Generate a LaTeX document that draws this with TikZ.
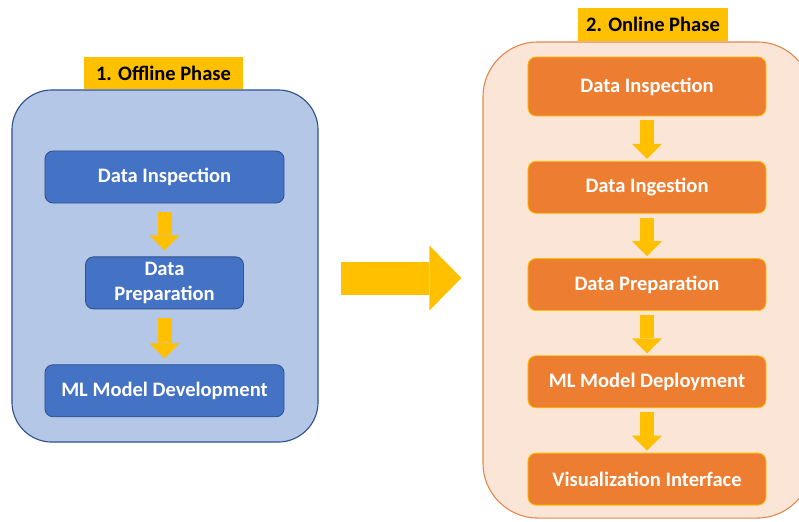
\documentclass[tikz,border=0pt]{standalone}
\usepackage{fontspec}
\setmainfont{Carlito}
\usetikzlibrary{arrows.meta,positioning}
\definecolor{gold}{HTML}{FFC000}
\definecolor{paleblue}{HTML}{B4C7E7}
\definecolor{boxblue}{HTML}{4472C4}
\definecolor{edgeblue}{HTML}{2F528F}
\definecolor{palepeach}{HTML}{FBE5D6}
\definecolor{peachedge}{HTML}{E08A52}
\definecolor{boxorange}{HTML}{ED7D31}

\begin{document}
\begin{tikzpicture}[x=0.025cm,y=-0.025cm,node distance=1.11cm,
  font=\bfseries\fontsize{14.6}{17.5}\selectfont,
  phase/.style={rectangle,rounded corners=1cm,line width=0.8pt,inner sep=0pt},
  tag/.style={rectangle,fill=gold,text=black,minimum height=0.8cm,inner sep=0pt},
  bluebox/.style={rectangle,rounded corners=0.2cm,fill=boxblue,draw=edgeblue,line width=0.6pt,text=white,minimum width=5.975cm,minimum height=1.3cm,align=center,inner sep=0pt},
  orangebox/.style={rectangle,rounded corners=0.2cm,fill=boxorange,draw=gold,line width=0.6pt,text=white,minimum width=5.95cm,minimum height=1.3cm,inner sep=0pt},
  flow/.style={draw=gold,line width=0.35cm,-{Triangle[length=0.375cm,width=0.75cm,line width=0pt]}},
  bigflow/.style={draw=gold,line width=0.825cm,shorten <=0.55cm,shorten >=0.525cm,-{Triangle[length=0.8cm,width=1.625cm,line width=0pt]}}]
\useasboundingbox (0,0) rectangle (799,521);

\node[phase,fill=paleblue,draw=edgeblue,minimum width=7.65cm,minimum height=8.8cm](off) at (165,266){};
\node[tag,minimum width=3.975cm](offtag) at (163.5,73){1. Offline Phase};

\node[bluebox](din) at (164.5,177){Data Inspection};
\node[bluebox,minimum width=3.95cm,below=1.325cm of din](dprep){Data\\Preparation};
\node[bluebox,below=1.375cm of dprep](mldev){ML Model Development};

\draw[flow,shorten <=0.225cm,shorten >=0.15cm](din)--(dprep);
\draw[flow,shorten <=0.225cm,shorten >=0.15cm](dprep)--(mldev);

\node[phase,rounded corners=1.375cm,fill=palepeach,draw=peachedge,minimum width=8.225cm,minimum height=11.9cm](on) at (647.5,280){};
\node[tag,minimum width=3.75cm,minimum height=0.825cm](ontag) at (653,24.5){2. Online Phase};

\node[orangebox,minimum height=1.475cm](oin) at (647,86.5){Data Inspection};
\node[orangebox,below=of oin](oing){Data Ingestion};
\node[orangebox,below=of oing](oprep){Data Preparation};
\node[orangebox,below=of oprep](odep){ML Model Deployment};
\node[orangebox,below=of odep](ovis){Visualization Interface};

\draw[flow,shorten <=0.1cm,shorten >=0.05cm](oin)--(oing);
\draw[flow,shorten <=0.1cm,shorten >=0.05cm](oing)--(oprep);
\draw[flow,shorten <=0.1cm,shorten >=0.05cm](oprep)--(odep);
\draw[flow,shorten <=0.1cm,shorten >=0.05cm](odep)--(ovis);

\coordinate (mid) at (400,278);
\draw[bigflow](off.east |- mid)--(on.west |- mid);
\end{tikzpicture}
\end{document}
